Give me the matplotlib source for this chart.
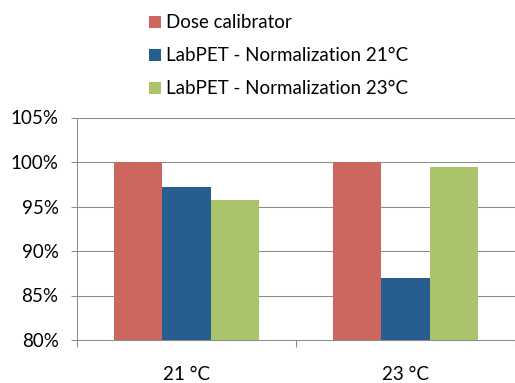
import matplotlib
matplotlib.use("Agg")
import matplotlib.pyplot as plt
from matplotlib.patches import Patch
from matplotlib.ticker import FixedLocator, PercentFormatter
import numpy as np

categories = ["21 °C", "23 °C"]
series_names = ["Dose calibrator", "LabPET - Normalization 21°C", "LabPET - Normalization 23°C"]
dose_calibrator = [100.0, 100.0]
labpet_norm21 = [97.2, 87.0]
labpet_norm23 = [95.7, 99.4]
series_values = [dose_calibrator, labpet_norm21, labpet_norm23]
colors = ["#CD665F", "#285D8F", "#A9C46B"]
yticks = [80, 85, 90, 95, 100, 105]

plt.rcParams['font.family'] = ['Lato', 'DejaVu Sans']
FS = 13.5

W, H = 515, 383
fig = plt.figure(figsize=(W / 100, H / 100), dpi=100)
ax = fig.add_axes([77 / W, 43 / H, (W - 77) / W, 222.5 / H])

x = np.arange(len(categories))
bw = 0.221
for i, (vals, col, name) in enumerate(zip(series_values, colors, series_names)):
    ax.bar(x + (i - 1) * bw, vals, width=bw, color=col, label=name, zorder=3)

ax.set_ylim(80, 105)
ax.set_xlim(-0.5, 1.5)
ax.set_yticks(yticks)
ax.yaxis.set_major_formatter(PercentFormatter(decimals=0))
ax.grid(axis='y', color='#8C8C8C', linewidth=0.75, zorder=0)
ax.set_xticks(x)
ax.set_xticklabels(categories)
ax.xaxis.set_minor_locator(FixedLocator([-0.5, 0.5, 1.5]))
ax.tick_params(axis='x', which='major', length=0, pad=18.5, labelsize=FS)
ax.tick_params(axis='x', which='minor', length=5, color='#8C8C8C', width=0.75, direction='out')
ax.tick_params(axis='y', length=4.3, color='#8C8C8C', width=0.75, pad=9, labelsize=FS)
for s in ['top', 'right']:
    ax.spines[s].set_visible(False)
for s in ['left', 'bottom']:
    ax.spines[s].set_color('#8C8C8C')
    ax.spines[s].set_linewidth(0.75)

handles = [Patch(facecolor=c, edgecolor='none') for c in colors]
fig.legend(handles, series_names, loc='upper left', bbox_to_anchor=(141 / W, 1 - 7 / H),
           frameon=False, fontsize=FS, handlelength=0.65, handleheight=0.65,
           handletextpad=0.3, labelspacing=0.85, borderaxespad=0)

fig.savefig("out.png", dpi=100)
